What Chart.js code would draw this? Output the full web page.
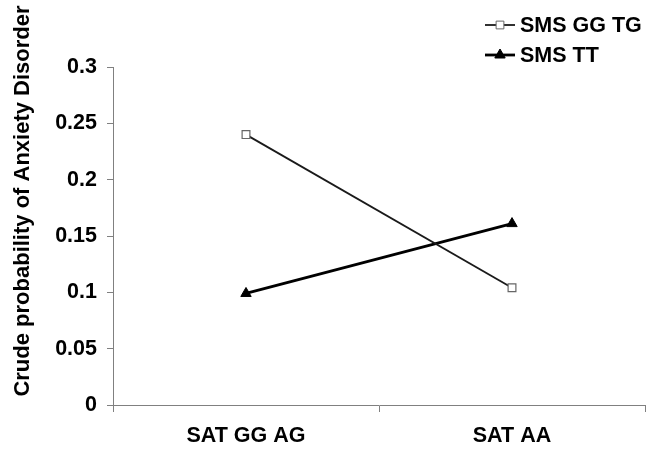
<!DOCTYPE html>
<html>
<head>
<meta charset="utf-8">
<script src="https://cdn.jsdelivr.net/npm/chart.js@4/dist/chart.umd.min.js"></script>
<style>
  body { margin: 0; background: #fff; }
  #wrap { width: 656px; height: 453px; }
</style>
</head>
<body>
<div id="wrap"><canvas id="chart"></canvas></div>
<script>
// Data
const categories = ['SAT GG AG', 'SAT AA'];
const seriesNames = ['SMS GG TG', 'SMS TT'];
const ggtgValues = [0.240, 0.104];
const ttValues = [0.099, 0.161];
const yTicks = [0, 0.05, 0.1, 0.15, 0.2, 0.25, 0.3];
const yTitle = 'Crude probability of Anxiety Disorder';

const FONT = 'Liberation Sans';

// y title + legend drawn by hand (legend is stacked at top right, above the plot)
const extras = {
  id: 'extras',
  afterDraw(chart){
    const ctx = chart.ctx;
    ctx.save();
    ctx.fillStyle = '#000';
    ctx.font = 'bold 22px "' + FONT + '"';
    ctx.textAlign = 'center';
    ctx.textBaseline = 'middle';
    ctx.translate(23, 201);
    ctx.rotate(-Math.PI/2);
    ctx.fillText(yTitle, 0, 0);
    ctx.restore();

    ctx.save();
    chart.data.datasets.forEach((ds, i)=>{
      const y = 25 + i*30;
      ctx.strokeStyle = ds.borderColor;
      ctx.lineWidth = ds.borderWidth;
      ctx.beginPath();
      ctx.moveTo(485, y);
      ctx.lineTo(515, y);
      ctx.stroke();
      ctx.fillStyle = ds.pointBackgroundColor;
      ctx.strokeStyle = ds.pointBorderColor;
      ctx.lineWidth = 1;
      Chart.helpers.drawPoint(ctx, {pointStyle: ds.pointStyle, radius: ds.pointRadius, borderWidth: 1}, 500, y);
      ctx.fillStyle = '#000';
      ctx.font = 'bold 21.5px "' + FONT + '"';
      ctx.textAlign = 'left';
      ctx.textBaseline = 'middle';
      ctx.fillText(ds.label, 520, y + 1);
    });
    ctx.restore();
  }
};

new Chart(document.getElementById('chart'), {
  type: 'line',
  data: {
    labels: categories,
    datasets: [{
      label: seriesNames[0],
      data: ggtgValues,
      borderColor: '#1a1a1a',
      borderWidth: 1.8,
      pointStyle: 'rect',
      pointRadius: 5.5,
      pointBorderWidth: 1.2,
      pointBorderColor: '#666',
      pointBackgroundColor: '#fff',
      tension: 0
    },{
      label: seriesNames[1],
      data: ttValues,
      borderColor: '#000',
      borderWidth: 2.8,
      pointStyle: 'triangle',
      pointRadius: 6,
      pointBorderWidth: 1,
      pointBorderColor: '#000',
      pointBackgroundColor: '#000',
      tension: 0
    }]
  },
  options: {
    responsive: true,
    maintainAspectRatio: false,
    animation: false,
    layout: { padding: { top: 67, right: 11, left: 0, bottom: 0 } },
    plugins: {
      legend: { display: false },
      tooltip: { enabled: false }
    },
    scales: {
      x: {
        type: 'category',
        offset: true,
        afterFit(scale){ scale.height = 48; },
        grid: { drawOnChartArea: false, drawTicks: true, tickLength: 7, color: '#808080', offset: true },
        border: { display: true, color: '#808080', width: 1 },
        ticks: { color: '#000', padding: 11, font: { family: FONT, size: 21.5, weight: 'bold' } }
      },
      y: {
        min: 0,
        max: 0.3,
        afterFit(scale){ scale.width = 113; },
        afterBuildTicks(scale){ scale.ticks = yTicks.map(v=>({value: v})); },
        grid: { drawOnChartArea: false, drawTicks: true, tickLength: 6, color: '#808080' },
        border: { display: true, color: '#808080', width: 1 },
        ticks: {
          color: '#000',
          padding: 10,
          font: { family: FONT, size: 21.5, weight: 'bold' },
          callback: v => String(v)
        }
      }
    }
  },
  plugins: [extras]
});
</script>
</body>
</html>
